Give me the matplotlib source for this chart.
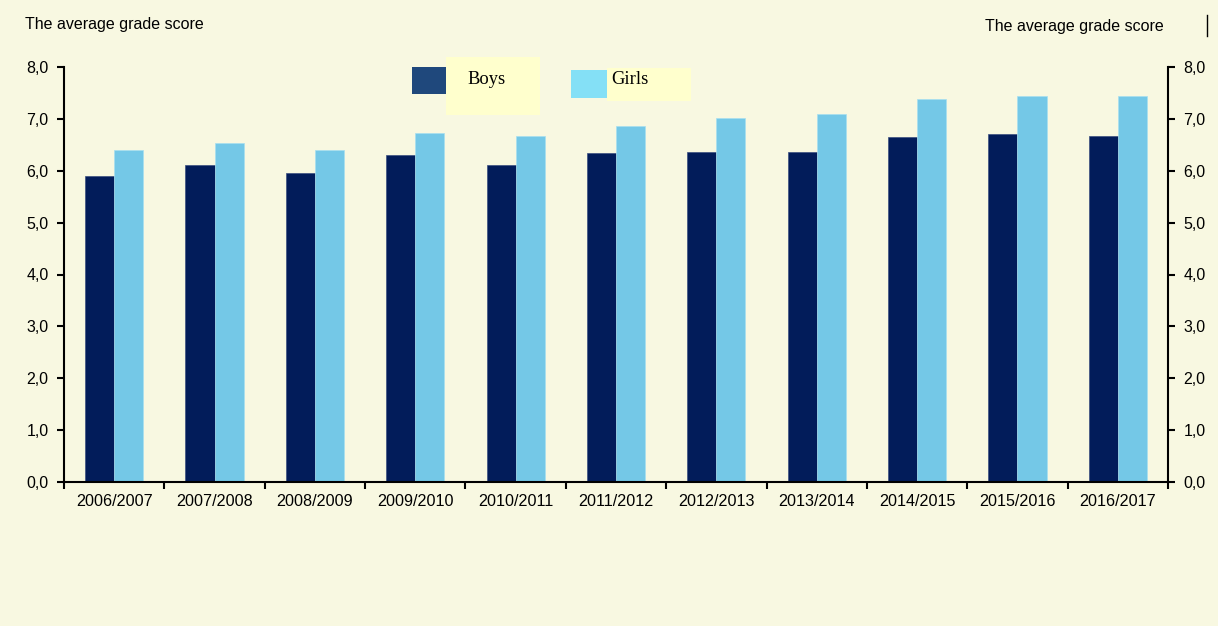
import matplotlib.pyplot as plt
from matplotlib.patches import Rectangle
from matplotlib.lines import Line2D
import numpy as np

years = ['2006/2007', '2007/2008', '2008/2009', '2009/2010', '2010/2011', '2011/2012',
         '2012/2013', '2013/2014', '2014/2015', '2015/2016', '2016/2017']
boys = [5.90, 6.11, 5.95, 6.30, 6.11, 6.34, 6.36, 6.36, 6.65, 6.71, 6.67]
girls = [6.40, 6.53, 6.40, 6.72, 6.67, 6.86, 7.01, 7.09, 7.38, 7.44, 7.44]

bg = '#F8F8E1'
plt.rcParams['font.family'] = ['Liberation Sans', 'DejaVu Sans']

fig = plt.figure(figsize=(12.18, 6.26), dpi=100, facecolor=bg)
ax = fig.add_axes([64 / 1218, 1 - 482 / 626, 1104 / 1218, 415 / 626])
ax.set_facecolor(bg)

x = np.arange(len(years))
w = 0.29
ax.bar(x - w / 2, boys, w, color='#021C5A', edgecolor='#3A4F80', linewidth=0.5)
ax.bar(x + w / 2, girls, w, color='#74C8E7', edgecolor='#A8E0F0', linewidth=0.5)

ax.set_xlim(-0.5, len(years) - 0.5)
ax.set_ylim(0, 8)
yt = np.arange(0, 9)
ylabels = [f'{v:.1f}'.replace('.', ',') for v in yt]
ax.set_yticks(yt)
ax.set_yticklabels(ylabels, fontsize=11.5)
ax.set_xticks(x)
ax.set_xticklabels(years, fontsize=11.6)
ax.tick_params(axis='x', length=0, pad=9)
ax.set_xticks(np.arange(-0.5, len(years)), minor=True)
ax.tick_params(axis='x', which='minor', length=5, width=1.5, direction='out')
ax.tick_params(axis='y', length=5, width=1.5, direction='out', pad=6)

ax2 = ax.twinx()
ax2.set_ylim(0, 8)
ax2.set_yticks(yt)
ax2.set_yticklabels(ylabels, fontsize=11.5)
ax2.tick_params(axis='y', length=5, width=1.5, direction='out', pad=6)

for a in (ax, ax2):
    a.spines['top'].set_visible(False)
    for s in ('left', 'right', 'bottom'):
        a.spines[s].set_linewidth(1.5)
ax2.spines['left'].set_visible(False)
ax2.spines['bottom'].set_visible(False)
ax.spines['right'].set_visible(False)

fig.text(25 / 1218, 1 - 25 / 626, 'The average grade score', fontsize=11.5, va='center', ha='left')
fig.text(1164 / 1218, 1 - 27 / 626, 'The average grade score', fontsize=11.5, va='center', ha='right')
fig.add_artist(Line2D([1207 / 1218, 1207 / 1218], [1 - 15 / 626, 1 - 36 / 626],
                      transform=fig.transFigure, color='black', lw=1))

# legend built by hand
def fig_rect(x0, y0, x1, y1, color):
    fig.add_artist(Rectangle((x0 / 1218, 1 - y1 / 626), (x1 - x0) / 1218, (y1 - y0) / 626,
                             transform=fig.transFigure, facecolor=color, edgecolor='none'))

fig_rect(446, 57, 540, 115, '#FFFFCD')
fig_rect(412, 67, 446, 94, '#1F487C')
fig_rect(607, 68, 691, 101, '#FFFFCD')
fig_rect(571, 70, 607, 98, '#84E0F6')
fig.text(467 / 1218, 1 - 80 / 626, 'Boys', fontsize=13.3, va='center', ha='left',
         family=['Liberation Serif'])
fig.text(611 / 1218, 1 - 80 / 626, 'Girls', fontsize=13.3, va='center', ha='left',
         family=['Liberation Serif'])

fig.savefig('out.png', dpi=100, facecolor=bg)
